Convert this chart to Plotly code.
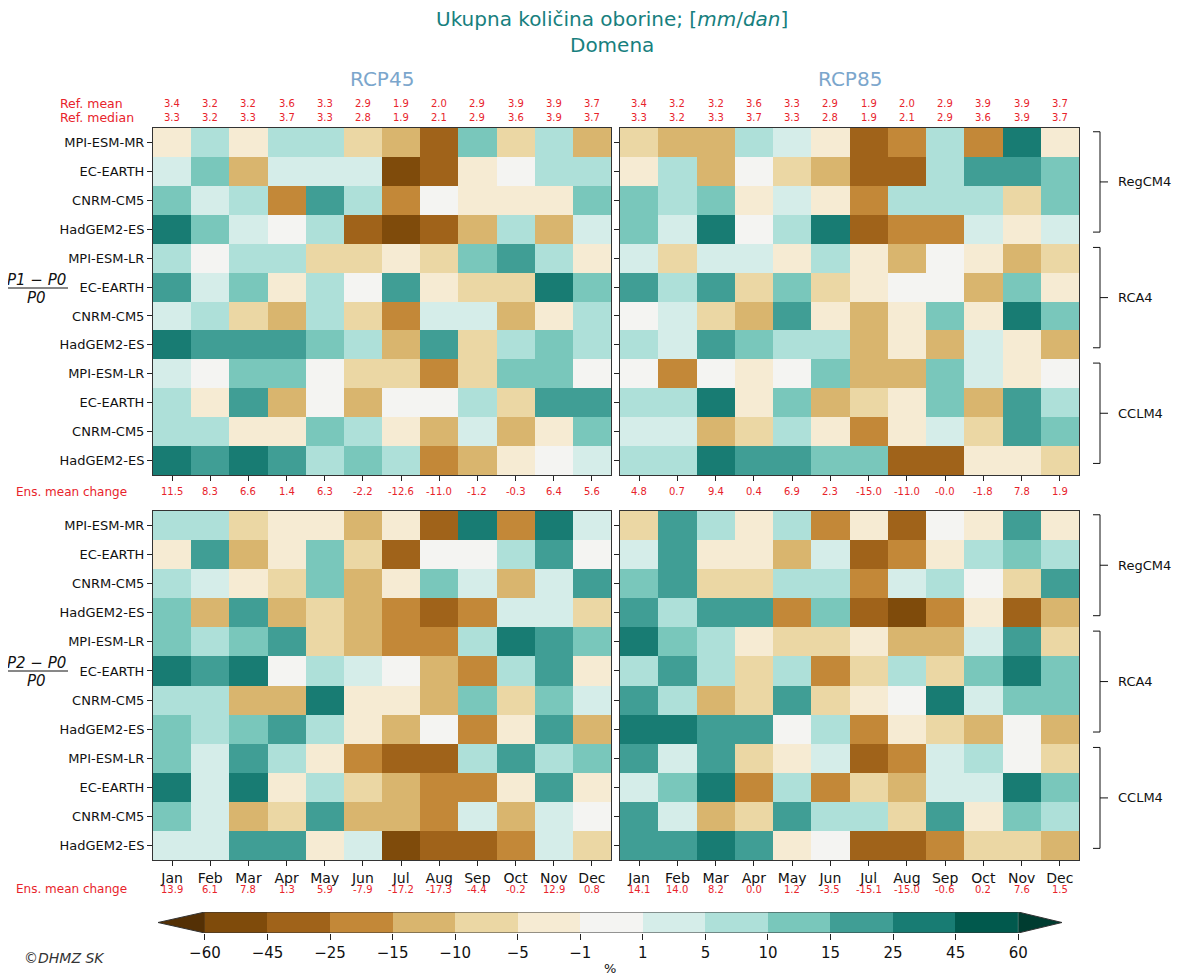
import numpy as np
import plotly.graph_objects as go

W, H = 1183, 974
OFF = 8  # page margin of the html body

MONTHS = ["Jan", "Feb", "Mar", "Apr", "May", "Jun", "Jul", "Aug", "Sep", "Oct", "Nov", "Dec"]
MODELS = ["MPI-ESM-MR", "EC-EARTH", "CNRM-CM5", "HadGEM2-ES",
          "MPI-ESM-LR", "EC-EARTH", "CNRM-CM5", "HadGEM2-ES",
          "MPI-ESM-LR", "EC-EARTH", "CNRM-CM5", "HadGEM2-ES"]
RCMS = ["RegCM4", "RCA4", "CCLM4"]

REF_MEAN = [3.4, 3.2, 3.2, 3.6, 3.3, 2.9, 1.9, 2.0, 2.9, 3.9, 3.9, 3.7]
REF_MEDIAN = [3.3, 3.2, 3.3, 3.7, 3.3, 2.8, 1.9, 2.1, 2.9, 3.6, 3.9, 3.7]

ENS_P1_RCP45 = [11.5, 8.3, 6.6, 1.4, 6.3, -2.2, -12.6, -11.0, -1.2, -0.3, 6.4, 5.6]
ENS_P1_RCP85 = [4.8, 0.7, 9.4, 0.4, 6.9, 2.3, -15.0, -11.0, -0.0, -1.8, 7.8, 1.9]
ENS_P2_RCP45 = [13.9, 6.1, 7.8, 1.3, 5.9, -7.9, -17.2, -17.3, -4.4, -0.2, 12.9, 0.8]
ENS_P2_RCP85 = [14.1, 14.0, 8.2, 0.0, 1.2, -3.5, -15.1, -15.0, -0.6, 0.2, 7.6, 1.5]

# relative change (%) per model (rows) and month (columns), estimated from colours
P1_RCP45 = [
    [-3, 7, -3, 7, 7, -7, -12, -35, 12, -7, 7, -12],
    [3, 12, -12, 3, 3, 3, -52, -35, -3, 0, 7, 7],
    [12, 3, 7, -20, 20, 7, -20, 0, -3, -3, -3, 12],
    [35, 12, 3, 0, 7, -35, -52, -35, -12, 7, -12, 3],
    [7, 0, 7, 7, -7, -7, -3, -7, 12, 20, 7, -3],
    [20, 3, 12, -3, 7, 0, 20, -3, -7, -7, 35, 12],
    [3, 7, -7, -12, 7, -7, -20, 3, 3, -12, -3, 7],
    [35, 20, 20, 20, 12, 7, -12, 20, -7, 7, 12, 7],
    [3, 0, 12, 12, 0, -7, -7, -20, -7, 12, 12, 0],
    [7, -3, 20, -12, 0, -12, 0, 0, 7, -7, 20, 20],
    [7, 7, -3, -3, 12, 7, -3, -12, 3, -12, -3, 12],
    [35, 20, 35, 20, 7, 12, 7, -20, -12, -3, 0, 3],
]
P1_RCP85 = [
    [-7, -12, -12, 7, 3, -3, -35, -20, 7, -20, 35, -3],
    [-3, 7, -12, 0, -7, -12, -35, -35, 7, 20, 20, 12],
    [12, 7, 12, -3, 3, -3, -20, 7, 7, 7, -7, 12],
    [12, 3, 35, 0, 7, 35, -35, -20, -20, 3, -3, 3],
    [3, -7, 3, 3, -3, 7, -3, -12, 0, -3, -12, -7],
    [20, 7, 20, -7, 12, -7, -3, 0, 0, -12, 12, -3],
    [0, 3, -7, -12, 20, -3, -12, -3, 12, -3, 35, 12],
    [7, 3, 20, 12, 7, 7, -12, -3, -12, 3, -3, -12],
    [0, -20, 0, -3, 0, 12, -12, -12, 12, 3, -3, 0],
    [7, 7, 35, -3, 12, -12, -7, -3, 12, -12, 20, 7],
    [3, 3, -12, -7, 7, -3, -20, -3, 3, -7, 20, 12],
    [7, 7, 35, 20, 20, 12, 12, -35, -35, -3, -3, -7],
]
P2_RCP45 = [
    [7, 7, -7, -3, -3, -12, -3, -35, 35, -20, 35, 3],
    [-3, 20, -12, -3, 12, -7, -35, 0, 0, 7, 20, 0],
    [7, 3, -3, -7, 12, -12, -3, 12, 3, -12, 3, 20],
    [12, -12, 20, -12, -7, -12, -20, -35, -20, 3, 3, -7],
    [12, 7, 12, 20, -7, -12, -20, -20, 7, 35, 20, 12],
    [35, 20, 35, 0, 7, 3, 0, -12, -20, 7, 20, -3],
    [7, 7, -12, -12, 35, -3, -3, -12, 12, -7, 12, 3],
    [12, 7, 12, 20, 7, -3, -12, 0, -20, -3, 20, -12],
    [12, 3, 20, 7, -3, -20, -35, -35, 7, 20, 7, 12],
    [35, 3, 35, -3, 7, -7, -12, -20, -20, -3, 20, -3],
    [12, 3, -12, -7, 20, -12, -12, -20, 3, -12, 3, 0],
    [3, 3, 20, 20, -3, 3, -52, -35, -35, -20, 3, -7],
]
P2_RCP85 = [
    [-7, 20, 7, -3, 7, -20, -3, -35, 0, -3, 20, -3],
    [3, 20, -3, -3, -12, 3, -35, -20, -3, 7, 12, 7],
    [12, 20, -7, -7, 7, 7, -20, 3, 7, 0, -7, 20],
    [20, 7, 20, 20, -20, 12, -35, -52, -20, -3, -35, -12],
    [35, 12, 7, -3, -7, -7, -3, -12, -12, 3, 20, -7],
    [7, 20, 7, -7, 7, -20, -7, 7, -7, 12, 35, 12],
    [20, 7, -12, -7, 20, -7, -3, 0, 35, 3, 12, 12],
    [35, 35, 20, 20, 0, 7, -20, -3, -7, -12, 0, -12],
    [20, 3, 20, -7, -3, 3, -35, -20, 3, 7, 0, -7],
    [3, 12, 35, -20, 7, -20, -7, -12, 3, 3, 35, 12],
    [20, 3, -12, -7, 20, 7, 7, -7, 20, -3, 12, 7],
    [20, 20, 35, 20, -3, 0, -35, -35, -20, -7, -7, -12],
]

BOUNDS = [-60, -45, -25, -15, -10, -5, -1, 1, 5, 10, 15, 25, 45, 60]
BOUND_LABELS = ["\u221260", "\u221245", "\u221225", "\u221215", "\u221210", "\u22125", "\u22121",
                "1", "5", "10", "15", "25", "45", "60"]
COLORS = ["#543005", "#7f4b0b", "#a0631a", "#c38838", "#d9b56e", "#ebd7a4", "#f6ebd3",
          "#f4f4f2", "#d5ede9", "#aee0d9", "#79c7bb", "#409e95", "#187c73", "#01594d", "#003c30"]

N = len(COLORS)
cscale = []
for i, c in enumerate(COLORS):
    cscale.append([i / N, c])
    cscale.append([(i + 1) / N, c])

FONT = "DejaVu Sans"
RED = "#e8232b"


def px(x):
    return (x - OFF) / W


def py(y):
    return 1 - (y - OFF) / H


fig = go.Figure()

panels = [
    (P1_RCP45, "x", "y", [153, 611], [128, 475]),
    (P1_RCP85, "x2", "y2", [620, 1079], [128, 475]),
    (P2_RCP45, "x3", "y3", [153, 611], [511, 860]),
    (P2_RCP85, "x4", "y4", [620, 1079], [511, 860]),
]

rows = list(range(len(MODELS)))
cols = list(range(len(MONTHS)))

layout_axes = {}
for k, (data, xa, ya, xd, yd) in enumerate(panels):
    z = np.digitize(np.array(data, dtype=float), BOUNDS)
    fig.add_trace(go.Heatmap(z=z, x=cols, y=rows, xaxis=xa, yaxis=ya,
                             colorscale=cscale, zmin=-0.5, zmax=N - 0.5,
                             showscale=False, xgap=0, ygap=0,
                             customdata=np.array(data),
                             hovertemplate="%{customdata}%<extra></extra>"))
    xname = "xaxis" if k == 0 else f"xaxis{k + 1}"
    yname = "yaxis" if k == 0 else f"yaxis{k + 1}"
    bottom = k >= 2
    left = k % 2 == 0
    layout_axes[xname] = dict(
        domain=[px(xd[0]), px(xd[1])], range=[-0.5, 11.5], anchor=ya,
        tickvals=cols, ticktext=MONTHS, showticklabels=bottom,
        ticks="outside", ticklen=5, tickcolor="#222", tickfont=dict(size=14, color="#111", family=FONT),
        showline=True, mirror=True, linecolor="#333", linewidth=1, showgrid=False, zeroline=False)
    layout_axes[yname] = dict(
        domain=[py(yd[1]), py(yd[0])], range=[11.5, -0.5], anchor=xa,
        tickvals=rows, ticktext=MODELS, showticklabels=left,
        ticks="outside", ticklen=5, tickcolor="#222", tickfont=dict(size=13, color="#111", family=FONT),
        showline=True, mirror=True, linecolor="#333", linewidth=1, showgrid=False, zeroline=False)

# colorbar built as its own axis
cb_x = [158, 1062]
cb_y = [912, 933]
mid = list(range(1, N - 1))
fig.add_trace(go.Heatmap(z=[mid], x=mid, y=[0], xaxis="x5", yaxis="y5",
                         colorscale=cscale, zmin=-0.5, zmax=N - 0.5, showscale=False,
                         hoverinfo="skip"))
tipL, tipR = -0.25, 14.2
fig.add_trace(go.Scatter(x=[0.5, tipL, 0.5, 0.5], y=[-0.5, 0, 0.5, -0.5], xaxis="x5", yaxis="y5",
                         fill="toself", fillcolor=COLORS[0], line=dict(width=0), mode="lines",
                         hoverinfo="skip", showlegend=False))
fig.add_trace(go.Scatter(x=[N - 1.5, tipR, N - 1.5, N - 1.5], y=[-0.5, 0, 0.5, -0.5], xaxis="x5", yaxis="y5",
                         fill="toself", fillcolor=COLORS[-1], line=dict(width=0), mode="lines",
                         hoverinfo="skip", showlegend=False))
fig.add_trace(go.Scatter(x=[tipL, 0.5, N - 1.5, tipR, N - 1.5, 0.5, tipL],
                         y=[0, 0.5, 0.5, 0, -0.5, -0.5, 0], xaxis="x5", yaxis="y5",
                         mode="lines", line=dict(color="#333", width=1),
                         hoverinfo="skip", showlegend=False))
layout_axes["xaxis5"] = dict(domain=[px(cb_x[0]), px(cb_x[1])], range=[tipL, tipR], anchor="y5",
                             tickvals=[i + 0.5 for i in range(len(BOUNDS))], ticktext=BOUND_LABELS,
                             ticks="outside", ticklen=6, tickcolor="#222",
                             tickfont=dict(size=15, color="#111", family=FONT),
                             showline=False, showgrid=False, zeroline=False)
layout_axes["yaxis5"] = dict(domain=[py(cb_y[1]), py(cb_y[0])], range=[-0.5, 0.5], anchor="x5",
                             visible=False)

ann = []
shapes = []


def text(t, x, y, size, color, xanchor="center", xref="paper", yref="paper", yanchor="middle"):
    ann.append(dict(text=t, x=x, y=y, xref=xref, yref=yref, showarrow=False,
                    xanchor=xanchor, yanchor=yanchor,
                    font=dict(size=size, color=color, family=FONT)))


# title
text("Ukupna količina oborine; [<i>mm</i>/<i>dan</i>]<br>Domena", px(612), py(32), 20, "#17807e")
for t, xc in [("RCP45", 382), ("RCP85", 850)]:
    text(t, px(xc), py(79), 20, "#7ba6cc")

# ref rows
for lab, yy, vals in [("Ref. mean", 103.5, REF_MEAN), ("Ref. median", 117.5, REF_MEDIAN)]:
    text(lab, px(58), py(yy), 12.5, RED, xanchor="left")
    for xa in ["x", "x2"]:
        for c, v in zip(cols, vals):
            text(f"{v:.1f}", c, py(yy), 10, RED, xref=xa)

# ensemble mean rows
for yy, pairs in [(492, [("x", ENS_P1_RCP45), ("x2", ENS_P1_RCP85)]),
                  (889, [("x3", ENS_P2_RCP45), ("x4", ENS_P2_RCP85)])]:
    text("Ens. mean change", px(129), py(yy), 12, RED, xanchor="right")
    for xa, vals in pairs:
        for c, v in zip(cols, vals):
            text(f"{v:.1f}", c, py(yy), 10, RED, xref=xa)

# fraction labels
for num, yc in [("<i>P1</i> \u2212 <i>P0</i>", 288), ("<i>P2</i> \u2212 <i>P0</i>", 671)]:
    text(num, px(37), py(yc - 8), 15, "#111")
    text("<i>P0</i>", px(37), py(yc + 10), 15, "#111")
    shapes.append(dict(type="line", xref="paper", yref="paper", x0=px(6), x1=px(68),
                       y0=py(yc), y1=py(yc), line=dict(color="#111", width=1)))

# RCM brackets
for ya in ["y2", "y4"]:
    for g, name in enumerate(RCMS):
        y0, y1 = 4 * g - 0.37, 4 * g + 3.1
        ym = (y0 + y1) / 2
        xb = px(1100)
        shapes.append(dict(type="line", xref="paper", yref=ya, x0=xb, x1=xb, y0=y0, y1=y1,
                           line=dict(color="#111", width=1)))
        for yy in (y0, y1):
            shapes.append(dict(type="line", xref="paper", yref=ya, x0=px(1093), x1=xb, y0=yy, y1=yy,
                               line=dict(color="#111", width=1)))
        shapes.append(dict(type="line", xref="paper", yref=ya, x0=xb, x1=px(1108), y0=ym, y1=ym,
                           line=dict(color="#111", width=1)))
        text(name, px(1116), ym, 13, "#111", xanchor="left", yref=ya)

text("%", px(610), py(968), 13, "#111")
text("<i>©DHMZ SK</i>", px(22), py(958), 14, "#333", xanchor="left")

fig.update_layout(width=W, height=H, margin=dict(l=0, r=0, t=0, b=0),
                  paper_bgcolor="white", plot_bgcolor="white",
                  annotations=ann, shapes=shapes, showlegend=False,
                  font=dict(family=FONT), **layout_axes)

fig.write_html("out.html")
